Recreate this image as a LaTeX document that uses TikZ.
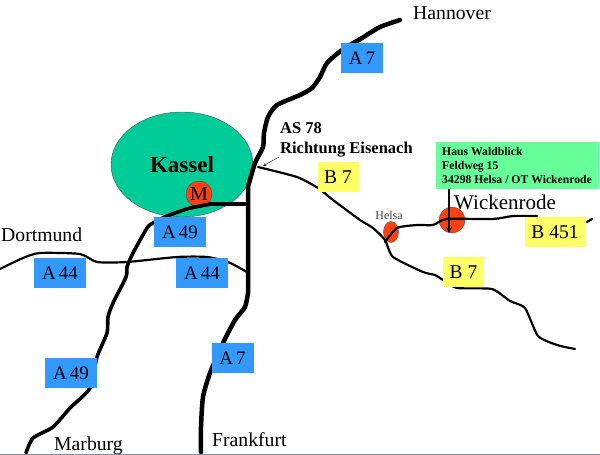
\documentclass[tikz,border=0pt]{standalone}
\usepackage{fontspec}
\usetikzlibrary{shapes.geometric}
\setmainfont{Liberation Serif}

\definecolor{motorway}{RGB}{51,153,255}
\definecolor{federal}{RGB}{255,255,102}
\definecolor{cityarea}{RGB}{0,204,153}
\definecolor{spotred}{RGB}{255,64,16}
\definecolor{housegreen}{RGB}{102,255,153}
\definecolor{edgeline}{RGB}{128,144,160}

\tikzstyle{autobahn}=[fill=motorway, minimum height=30pt, inner sep=0pt, font=\fontsize{19}{19}\selectfont]
\tikzstyle{bundes}=[fill=federal, minimum height=30pt, inner sep=0pt, font=\fontsize{19.5}{19.5}\selectfont]
\tikzstyle{town}=[inner sep=0pt, font=\fontsize{19.7}{19.7}\selectfont]
\tikzstyle{note}=[inner sep=0pt, align=left, font=\fontsize{16.5}{20}\selectfont\bfseries]
\tikzstyle{spot}=[draw=black!70, line width=0.4pt, fill=spotred]
\tikzstyle{bigroad}=[line width=4.5pt, line cap=round, line join=round]
\tikzstyle{midroad}=[line width=3.6pt, line cap=round, line join=round]
\tikzstyle{smallroad}=[line width=2.2pt, line cap=round, line join=round]

\begin{document}
\begin{tikzpicture}[x=1pt,y=-1pt]
\useasboundingbox (0,0) rectangle (600,455);

\node[ellipse, draw=black!70, line width=0.4pt, fill=cityarea, minimum width=142pt, minimum height=105pt, inner sep=0pt] (kassel) at (182,164.5) {};

% roads
\draw[smallroad] plot[smooth, tension=0.4] coordinates {(0,269) (23,258) (40,253) (80,254) (97,262) (127,262) (177,257) (207,257) (228,262) (247,272)};
\draw[smallroad] plot[smooth, tension=0.35] coordinates {(258,167) (297,177) (318,188) (333,200) (360,220) (373,228) (385,240) (393,257) (423,272) (435,275) (443,280) (457,288) (492,289) (510,301) (525,308) (538,336) (557,345) (575,349)};
\draw[bigroad] plot[smooth, tension=0.4] coordinates {(400,20) (380,27) (362,38) (342,50) (327,63) (320,77) (312,88) (300,95) (277,105) (268,117) (264,133) (263,147) (255,163) (248,187)} -- (248,293) -- plot[smooth, tension=0.4] coordinates {(248,293) (245,307) (235,320) (223,343) (210,373) (203,397) (201,427) (201,452)};
\draw[midroad] (248,204) -- (210,204) -- plot[smooth, tension=0.4] coordinates {(210,204) (190,208) (167,216) (153,223) (147,228) (133,253) (127,267) (126,277) (113,303) (108,317) (107,333) (97,357) (90,388) (70,408) (53,427) (33,438) (26,453)};

% towns
\node[spot, circle, minimum size=26pt, inner sep=0pt, font=\fontsize{20}{20}\selectfont] (messe) at (199,194) {M};
\draw[midroad] (210,204) -- (190,208);
\node[spot, ellipse, minimum width=15pt, minimum height=21pt, inner sep=0pt] (helsa) at (391,232) {};
\node[spot, circle, minimum size=26pt, inner sep=0pt] (wicken) at (452,220) {};
\draw[smallroad] plot[smooth, tension=0.4] coordinates {(385,242) (397,228) (417,225) (433,225) (447,219) (493,219) (513,216) (537,216)};
\draw[smallroad] (587,222) -- (592,219);

% labels on the roads
\node[autobahn, minimum width=42pt] (a7top) at (362,58) {A\hspace{3pt}7};
\node[autobahn, minimum width=42pt] (a7low) at (232.5,358) {A\hspace{3pt}7};
\node[autobahn, minimum width=52pt] (a49top) at (180,232) {A\hspace{3pt}49};
\node[autobahn, minimum width=52pt] (a49low) at (71,373) {A\hspace{3pt}49};
\node[autobahn, minimum width=52pt] (a44left) at (60,273) {A\hspace{3pt}44};
\node[autobahn, minimum width=52pt] (a44right) at (202,273) {A\hspace{3pt}44};
\node[bundes, minimum width=41pt] (b7top) at (338,177) {B 7};
\node[bundes, minimum width=41pt] (b7low) at (463.5,272) {B 7};
\node[bundes, minimum width=61pt] (b451) at (555,232) {B 451};

\node[town, font=\fontsize{23}{23}\selectfont\bfseries] (kasseltext) at (182,165) {Kassel};
\node[town, anchor=west] (hannover) at (413,13) {Hannover};
\node[town, anchor=west] (dortmund) at (1,235) {Dortmund};
\node[town, anchor=west] (marburg) at (54,446) {Marburg};
\node[town, anchor=west] (frankfurt) at (212,440) {Frankfurt};
\node[town, anchor=west, font=\fontsize{21}{21}\selectfont] (wickentext) at (454,202) {Wickenrode};
\node[town, text=black!75, font=\fontsize{12}{12}\selectfont] (helsatext) at (389,215) {Helsa};
\node[note, anchor=west] (richtung) at (280,140) {AS 78\\Richtung Eisenach};

\node[anchor=north west, minimum width=163pt, minimum height=47pt, inner sep=0pt, fill=housegreen] (haus) at (436,142) {};
\node[note, anchor=west, font=\fontsize{11.7}{14}\selectfont\bfseries] (haustext) at (442,165.5) {Haus Waldblick\\Feldweg 15\\34298 Helsa / OT Wickenrode};

% pointers
\coordinate (ausfahrt) at (263,166);
\coordinate (pfeilstart) at (279,157);
\draw[-stealth, line width=0.5pt, black!80] (pfeilstart) -- (ausfahrt);
\coordinate (hausfoot) at (449,189);
\coordinate (hausend) at (449,233);
\draw[-stealth, line width=1.6pt] (hausfoot) -- (hausend);

\draw[line width=1pt, color=edgeline] (0,454.5) -- (600,454.5);
\end{tikzpicture}
\end{document}
